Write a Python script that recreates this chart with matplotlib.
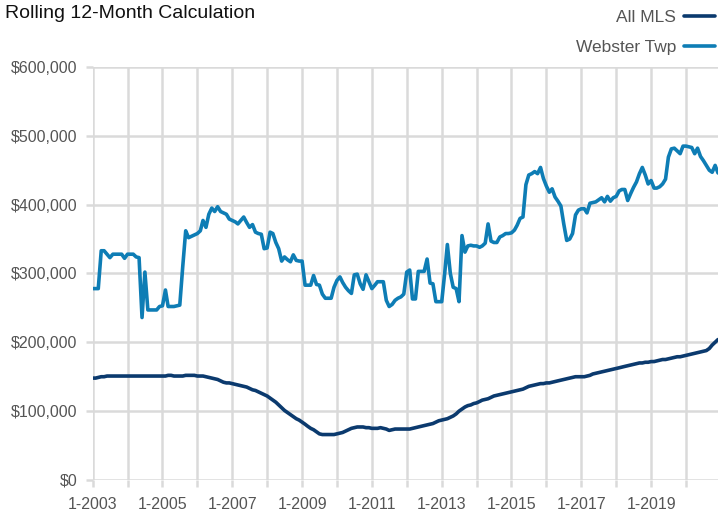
import matplotlib
matplotlib.use("Agg")
import matplotlib.pyplot as plt
import pandas as pd

# monthly rolling 12-month values, thousands of dollars, 1-2003 .. 12-2020
all_mls = [
    148, 148, 149, 150, 150, 151, 151, 151, 151, 151, 151, 151,   # 2003
    151, 151, 151, 151, 151, 151, 151, 151, 151, 151, 151, 151,   # 2004
    151, 151, 152, 152, 151, 151, 151, 151, 152, 152, 152, 152,   # 2005
    151, 151, 151, 150, 149, 148, 147, 146, 144, 142, 141, 141,   # 2006
    140, 139, 138, 137, 136, 135, 133, 131, 130, 128, 126, 124,   # 2007
    122, 119, 116, 113, 109, 105, 101, 98, 95, 92, 89, 87,        # 2008
    84, 81, 78, 75, 73, 70, 67, 66, 66, 66, 66, 66,               # 2009
    67, 68, 69, 71, 73, 75, 76, 77, 77, 77, 76, 76,               # 2010
    75, 75, 75, 76, 75, 74, 72, 73, 74, 74, 74, 74,               # 2011
    74, 74, 75, 76, 77, 78, 79, 80, 81, 82, 84, 86,               # 2012
    87, 88, 89, 91, 93, 96, 100, 103, 106, 108, 109, 111,         # 2013
    112, 114, 116, 117, 118, 120, 122, 123, 124, 125, 126, 127,   # 2014
    128, 129, 130, 131, 132, 134, 136, 137, 138, 139, 140, 140,   # 2015
    141, 141, 142, 143, 144, 145, 146, 147, 148, 149, 150, 150,   # 2016
    150, 150, 151, 152, 154, 155, 156, 157, 158, 159, 160, 161,   # 2017
    162, 163, 164, 165, 166, 167, 168, 169, 170, 170, 171, 171,   # 2018
    172, 172, 173, 174, 175, 175, 176, 177, 178, 179, 179, 180,   # 2019
    181, 182, 183, 184, 185, 186, 187, 188, 191, 196, 200, 204,   # 2020
]

webster = [
    278, 278, 278, 333, 333, 328, 323, 328, 328, 328, 328, 322,   # 2003
    328, 328, 328, 324, 323, 236, 302, 247, 247, 247, 247, 252,   # 2004
    253, 276, 252, 252, 252, 253, 254, 310, 362, 352, 354, 356,   # 2005
    358, 362, 377, 367, 386, 395, 390, 397, 390, 388, 386, 379,   # 2006
    377, 375, 372, 377, 382, 374, 367, 371, 360, 358, 357, 336,   # 2007
    337, 360, 358, 345, 336, 318, 324, 320, 317, 327, 319, 318,   # 2008
    318, 283, 283, 283, 297, 284, 283, 270, 264, 264, 264, 280,   # 2009
    290, 295, 287, 280, 275, 271, 298, 299, 285, 277, 298, 288,   # 2010
    278, 283, 288, 288, 288, 261, 252, 255, 261, 264, 266, 270,   # 2011
    302, 305, 263, 263, 303, 303, 303, 321, 286, 285, 259, 259,   # 2012
    259, 300, 342, 300, 280, 278, 259, 355, 331, 340, 341, 340,   # 2013
    340, 338, 340, 344, 372, 347, 345, 345, 353, 355, 358, 358,   # 2014
    359, 363, 370, 380, 382, 429, 443, 445, 448, 445, 454, 438,   # 2015
    427, 418, 423, 411, 405, 398, 372, 348, 350, 358, 385, 392,   # 2016
    394, 394, 388, 402, 403, 404, 407, 410, 404, 412, 405, 410,   # 2017
    412, 420, 422, 422, 406, 416, 425, 433, 445, 454, 443, 430,   # 2018
    435, 424, 424, 426, 430, 437, 469, 481, 482, 478, 474, 485,   # 2019
    485, 484, 483, 474, 482, 470, 464, 457, 450, 447, 457, 446,   # 2020
]

months = pd.date_range("2003-01-01", periods=len(webster), freq="MS")
year_ticks = pd.date_range("2003-01-01", "2020-01-01", freq="YS")
y_ticks = [0, 100, 200, 300, 400, 500, 600]

navy = "#0b3a6e"
blue = "#0e7db5"
grid = "#dadada"
txt = "#555555"

plt.rcParams["font.family"] = ["Liberation Sans Narrow", "Liberation Sans", "DejaVu Sans"]

fig = plt.figure(figsize=(7.18, 5.15), dpi=100)
ax = fig.add_axes([0.129, 0.068, 0.871, 0.802])

ax.plot(months, all_mls, color=navy, lw=2.6, label="All MLS", solid_capstyle="round")
ax.plot(months, webster, color=blue, lw=2.6, label="Webster Twp", solid_capstyle="round")

ax.set_xlim(months[0], months[-1])
ax.set_ylim(0, 600)
ax.set_xticks(year_ticks)
ax.set_xticklabels([f"1-{d.year}" if (d.year - 2003) % 2 == 0 else "" for d in year_ticks])
ax.set_yticks(y_ticks)
ax.set_yticklabels([f"${v * 1000:,.0f}" for v in y_ticks])

ax.grid(True, color=grid, lw=1.8)
ax.set_axisbelow(True)
for s in ax.spines.values():
    s.set_visible(False)
ax.tick_params(axis="both", colors=grid, length=5, width=1.8, labelcolor=txt, labelsize=11.5)
ax.tick_params(axis="x", pad=7)
ax.tick_params(axis="y", pad=6)

fig.text(0.007, 0.99, "Rolling 12-Month Calculation", fontsize=14, color="#111111", va="top", ha="left")

ax.legend(loc="upper right", bbox_to_anchor=(1.0, 0.988), bbox_transform=fig.transFigure,
          frameon=False, markerfirst=False, fontsize=12.5, handlelength=1.75, handletextpad=0.45,
          labelspacing=0.85, borderpad=0.2, borderaxespad=0, labelcolor=txt)

fig.savefig("out.png", dpi=100)
